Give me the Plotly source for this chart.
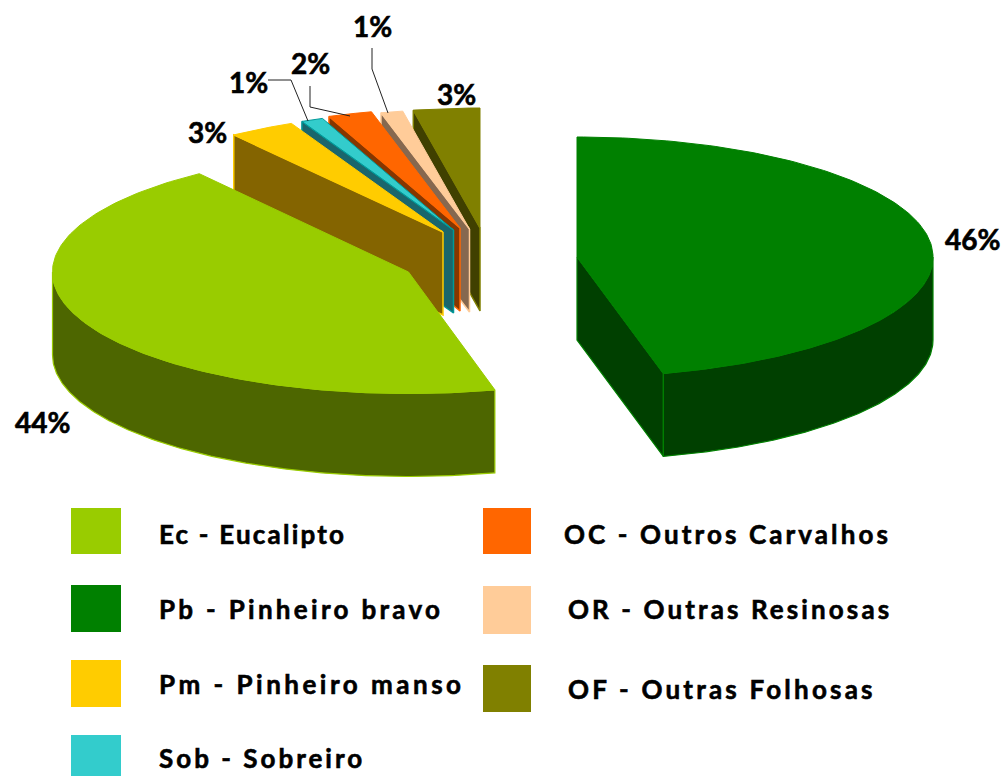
import numpy as np
import plotly.graph_objects as go

# data (clockwise from 12 o'clock, as drawn)
slice_codes = ["Pb", "Ec", "Pm", "Sob", "OC", "OR", "OF"]
slice_values = [46.1, 43.9, 3.0, 1.0, 2.0, 1.0, 3.0]
slice_labels = ["46%", "44%", "3%", "1%", "2%", "1%", "3%"]
legend_texts = ["Ec - Eucalipto", "Pb - Pinheiro bravo", "Pm - Pinheiro manso", "Sob - Sobreiro",
                "OC - Outros Carvalhos", "OR - Outras Resinosas", "OF - Outras Folhosas"]
legend_codes = ["Ec", "Pb", "Pm", "Sob", "OC", "OR", "OF"]

# style / layout
COLORS = {"Pb": "#008000", "Ec": "#99CC00", "Pm": "#FFCC00", "Sob": "#33CCCC",
          "OC": "#FF6600", "OR": "#FFCC99", "OF": "#808000"}
WALLS = {"Pb": "#004000", "Ec": "#4D6600", "Pm": "#846400", "Sob": "#1A666C",
         "OC": "#863600", "OR": "#86684F", "OF": "#404000"}
EDGES = {"Pb": "#008000", "Ec": "#99CC00", "Pm": "#FFCC00", "Sob": "#009999",
         "OC": "#FF6600", "OR": "#FFCC99", "OF": "#808000"}
APEX = {"Pb": (577, 257), "Ec": (408.5, 272), "Pm": (443, 232), "Sob": (453.5, 230),
        "OC": (460, 228), "OR": (469.5, 229), "OF": (480, 228)}
RX, RY, DEPTH = 356, 120, 83
RY_EC = 121.5
FONT = "Lato"
LABEL_POS = {0: (972, 239), 1: (42, 422), 2: (207, 132), 3: (248, 82), 4: (310, 63), 5: (372, 26), 6: (456, 94)}
LEADERS = [[(268, 80), (291, 80), (308, 121)],
           [(310, 86), (310, 107), (350, 116)],
           [(372, 48), (372, 69), (388, 113)]]
SWATCH = {"Ec": (71, 121, 508, 554), "Pb": (71, 121, 585, 632), "Pm": (71, 121, 660, 707),
          "Sob": (71, 121, 735, 776), "OC": (483, 531, 508, 554), "OR": (483, 531, 586, 634),
          "OF": (483, 531, 665, 712)}
TEXT_POS = {"Ec": (157, 534), "Pb": (157, 609), "Pm": (157, 684), "Sob": (157, 758),
            "OC": (562, 534), "OR": (566, 609), "OF": (566, 689)}

fig = go.Figure()


def arc(code, t0, t1, drop=0):
    ax, ay = APEX[code]
    ry = RY_EC if code == "Ec" else RY
    t = np.radians(np.linspace(t0, t1, 160))
    return ax + RX * np.sin(t), ay - ry * np.cos(t) + drop


def poly(xs, ys, fill, line, width=1.2):
    fig.add_trace(go.Scatter(x=list(xs), y=list(ys), mode="lines", fill="toself", fillcolor=fill,
                             line=dict(color=line, width=width), hoverinfo="skip", showlegend=False))


cum = np.cumsum([0] + slice_values) / sum(slice_values) * 360
spans = {c: (cum[i], cum[i + 1]) for i, c in enumerate(slice_codes)}

# painter's order: back slices first
for code in ["OF", "OR", "OC", "Sob", "Pm", "Ec", "Pb"]:
    t0, t1 = spans[code]
    ax, ay = APEX[code]
    col, wall, edge = COLORS[code], WALLS[code], EDGES[code]
    if code in ("OF", "OR", "OC", "Sob", "Pm"):
        x0, y0 = arc(code, t0, t0)
        poly([ax, ax, x0[0], x0[0], ax], [ay, ay + DEPTH, y0[0] + DEPTH, y0[0], ay], wall, edge, 1.5)
    if code == "Pb":
        x0, y0 = arc(code, t1, t1)
        poly([ax, ax, x0[0], x0[0], ax], [ay, ay + DEPTH, y0[0] + DEPTH, y0[0], ay], wall, col)
    if t0 < 270 and t1 > 90:  # outer wall faces the viewer
        a, b = max(t0, 90), min(t1, 270)
        xt, yt = arc(code, a, b)
        xb, yb = arc(code, a, b, DEPTH)
        poly(np.r_[xt, xb[::-1], xt[0]], np.r_[yt, yb[::-1], yt[0]], wall, col)
    xa, ya = arc(code, t0, t1)
    poly(np.r_[ax, xa, ax], np.r_[ay, ya, ay], col, edge if code == "Sob" else col, 1)

# leader lines
for pts in LEADERS:
    fig.add_trace(go.Scatter(x=[p[0] for p in pts], y=[p[1] for p in pts], mode="lines",
                             line=dict(color="#222222", width=1), hoverinfo="skip", showlegend=False))

ann = []
for i, lab in enumerate(slice_labels):
    x, y = LABEL_POS[i]
    ann.append(dict(x=x, y=y, text=lab, showarrow=False, xanchor="center", yanchor="middle",
                    font=dict(family=FONT, size=28, color="#000000", weight="bold")))
shapes = []
for code, txt in zip(legend_codes, legend_texts):
    x0, x1, y0, y1 = SWATCH[code]
    shapes.append(dict(type="rect", x0=x0, x1=x1, y0=y0, y1=y1, fillcolor=COLORS[code], line_width=0, layer="below"))
    tx, ty = TEXT_POS[code]
    ann.append(dict(x=tx, y=ty, text=txt, showarrow=False, xanchor="left", yanchor="middle", align="left",
                    font=dict(family=FONT, size=26, color="#000000", weight="bold")))

fig.update_layout(width=1003, height=776, margin=dict(l=0, r=0, t=0, b=0),
                  paper_bgcolor="#FFFFFF", plot_bgcolor="#FFFFFF", showlegend=False,
                  xaxis=dict(range=[0, 1003], visible=False, fixedrange=True),
                  yaxis=dict(range=[776, 0], visible=False, fixedrange=True),
                  annotations=ann, shapes=shapes)

post = """
document.body.style.margin='0';
var sp={'Ec':'2.2px','Pb':'3.3px','Pm':'3.5px','So':'3.0px','OC':'3.1px','OR':'3.1px','OF':'3.2px'};
document.querySelectorAll('.annotation-text').forEach(function(t){
  t.style.stroke='#000'; t.style.strokeWidth='0.6px';
  var s=t.textContent;
  if(s.length>4){t.style.letterSpacing=sp[s.slice(0,2)];}
});
"""
fig.write_html("out.html", post_script=post, config={"displayModeBar": False})
